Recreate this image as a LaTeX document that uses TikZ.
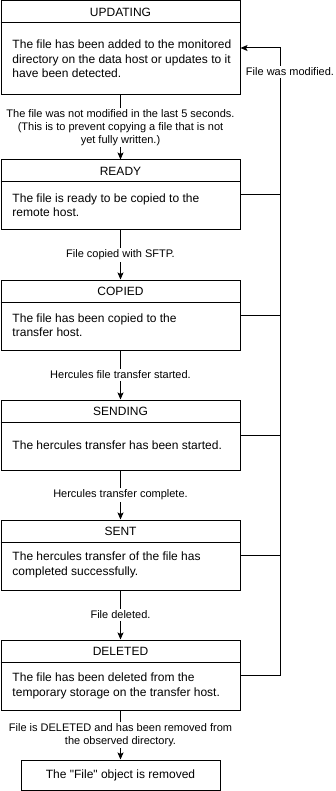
\documentclass[tikz,border=0pt]{standalone}
\usepackage{fontspec}
\setmainfont{Liberation Sans}
\usetikzlibrary{arrows.meta}

\begin{document}
\begin{tikzpicture}[x=1pt,y=-1pt,line width=1pt,>={Stealth[length=7pt,width=6pt,inset=1.5pt]}]
            \tikzstyle{state}=[draw=black,fill=white,minimum width=239pt,minimum height=70pt,inner sep=0pt]
            \tikzstyle{head}=[font=\fontsize{12}{14.4}\selectfont,inner sep=0pt]
            \tikzstyle{body}=[anchor=west,align=left,font=\fontsize{12}{14.4}\selectfont,inner sep=0pt]
            \tikzstyle{cond}=[fill=white,align=center,font=\fontsize{11}{13.2}\selectfont,inner sep=1.5pt]
            \useasboundingbox (0,0) rectangle (335,791);

                    \node[state,minimum height=94pt] (S-0) at (120.5, 48){};
                    \node[state] (S-1) at (120.5, 195){};
                    \node[state] (S-2) at (120.5, 315){};
                    \node[state] (S-3) at (120.5, 435){};
                    \node[state] (S-4) at (120.5, 555){};
                    \node[state] (S-5) at (120.5, 675){};
                    \node[state,minimum width=199pt,minimum height=30pt,font=\fontsize{12}{14.4}\selectfont] (S-6) at (120.5, 775){The \textquotedbl File\textquotedbl\ object is removed};

                    % title bar of every state
                \foreach \s/\name in {0/UPDATING, 1/READY, 2/COPIED, 3/SENDING, 4/SENT, 5/DELETED}{
                    \draw (S-\s.north west) ++(0,22.5) -- ++(239,0);
                    \node[head] (T-\s) at ([yshift=-11.5pt]S-\s.north){\name};
                }

                    \node[body] (B-0) at (12, 59){The file has been added to the monitored\\directory on the data host or updates to it\\have been detected.};
                    \node[body] (B-1) at (12, 205){The file is ready to be copied to the\\remote host.};
                    \node[body] (B-2) at (12, 325){The file has been copied to the\\transfer host.};
                    \node[body] (B-3) at (12, 445){The hercules transfer has been started.};
                    \node[body] (B-4) at (12, 565){The hercules transfer of the file has\\completed successfully.};
                    \node[body] (B-5) at (12, 686){The file has been deleted from the\\temporary storage on the transfer host.};

                \foreach \from/\to/\txt in {0/1/{The file was not modified in the last 5 seconds.\\(This is to prevent copying a file that is not\\yet fully written.)},
                                            1/2/{File copied with SFTP.},
                                            2/3/{Hercules file transfer started.},
                                            3/4/{Hercules transfer complete.},
                                            4/5/{File deleted.},
                                            5/6/{File is DELETED and has been removed from\\the observed directory.}}
                    \draw[->] (S-\from) -- node[cond] (L-\from) {\txt} (S-\to);

                    % back to UPDATING when the file changes
                    \coordinate (back) at (280, 48);
                \foreach \s in {1,...,4}
                    \draw (S-\s.east) -- (S-\s.east -| back);
                    \draw[->] (S-5.east) -| (back) -- (S-0.east);
                    \node[cond] (L-back) at (290, 72){File was modified.};
        \end{tikzpicture}
\end{document}
